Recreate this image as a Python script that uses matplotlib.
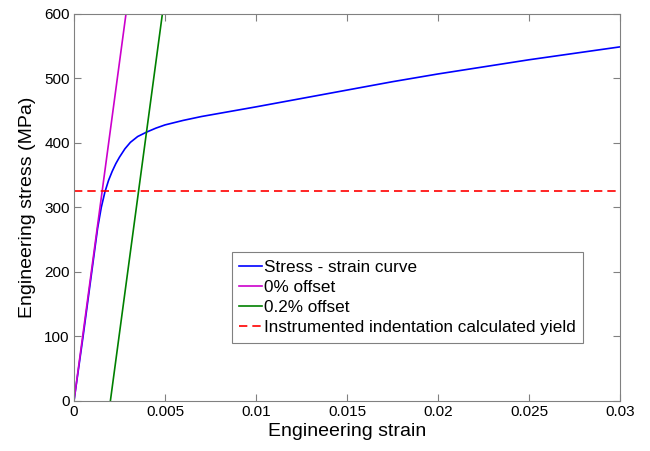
"""Engineering stress-strain curve with offset lines"""
import matplotlib
matplotlib.use("Agg")
import matplotlib.pyplot as plt
import numpy as np

plt.rcParams["font.family"] = ["Liberation Sans", "DejaVu Sans"]

strain = [0, 0.0005, 0.0010, 0.0013, 0.0015, 0.0017, 0.0019, 0.0021, 0.0023,
          0.0025, 0.0028, 0.0031, 0.0035, 0.0040, 0.0045, 0.0050, 0.0060,
          0.0070, 0.0080, 0.0100, 0.0125, 0.0150, 0.0175, 0.0200, 0.0225,
          0.0250, 0.0275, 0.0300]
stress = [0, 100, 205, 268, 300, 324, 342, 356, 368, 378, 391, 401, 410, 417,
          423, 428, 435, 441, 446, 456, 469, 482, 495, 507, 518, 529, 539, 549]

modulus = 210000.0  # MPa
offsets = [0.0, 0.002]
offset_labels = ["0% offset", "0.2% offset"]
offset_colors = ["#cc00cc", "#008000"]
yield_stress = 325.0

fig = plt.figure(figsize=(6.5, 4.51), dpi=100)
ax = fig.add_axes([0.1138, 0.1109, 0.8400, 0.8581])

ax.plot(strain, stress, color="blue", lw=1.2, label="Stress - strain curve")
s_line = np.array([0.0, 620.0])
for off, lab, col in zip(offsets, offset_labels, offset_colors):
    ax.plot(off + s_line / modulus, s_line, color=col, lw=1.2, label=lab)
ax.axhline(yield_stress, color="red", ls=(0, (5, 3)), lw=1.2,
           label="Instrumented indentation calculated yield")

ax.set_xlim(0, 0.03)
ax.set_ylim(0, 600)
ax.set_xticks([0, 0.005, 0.01, 0.015, 0.02, 0.025, 0.03])
ax.set_xticklabels(["0", "0.005", "0.01", "0.015", "0.02", "0.025", "0.03"])
ax.set_yticks(np.arange(0, 601, 100))
ax.tick_params(direction="in", length=5, color="#808080", labelsize=11,
               top=True, right=True, pad=3)
for sp in ax.spines.values():
    sp.set_color("#808080")
ax.set_xlabel("Engineering strain", fontsize=14, labelpad=3)
ax.set_ylabel("Engineering stress (MPa)", fontsize=14, labelpad=6)

leg = ax.legend(loc="lower left", bbox_to_anchor=(0.289, 0.15), fontsize=12.3,
                handlelength=1.3, handletextpad=0.12, borderpad=0.45,
                labelspacing=0.3, fancybox=False, framealpha=1,
                borderaxespad=0)
leg.get_frame().set_edgecolor("#808080")
leg.get_frame().set_linewidth(0.8)

fig.savefig("out.png", dpi=100)
plt.close()
